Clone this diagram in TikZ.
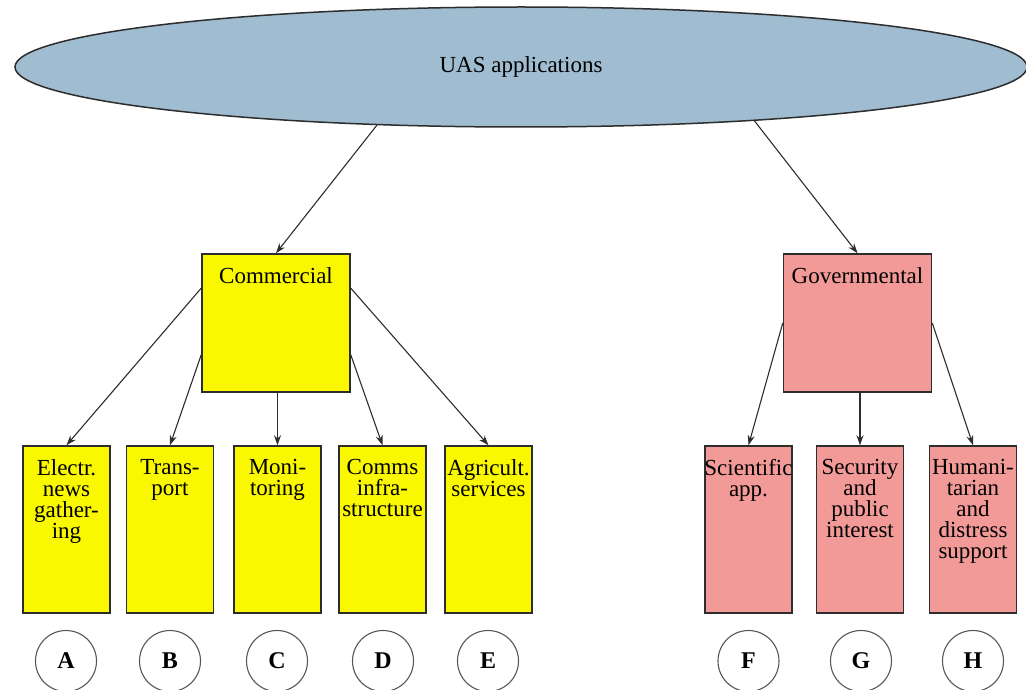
\documentclass[tikz,border=0pt]{standalone}
\usepackage{fontspec}
\setmainfont{Liberation Serif}
\usetikzlibrary{shapes.geometric,arrows.meta}
\definecolor{uasblue}{RGB}{160,188,208}
\definecolor{comyel}{RGB}{250,248,0}
\definecolor{govpink}{RGB}{242,154,152}
\definecolor{edgec}{RGB}{45,45,45}
\begin{document}
\begin{tikzpicture}[x=1pt,y=-1pt,
 every node/.style={font=\fontsize{23}{21}\selectfont},
 catbox/.style={draw=edgec,line width=1.5pt,minimum width=148pt,minimum height=138pt,inner sep=0pt},
 leafbox/.style={draw=edgec,line width=1.5pt,minimum width=87pt,minimum height=167pt,inner sep=0pt},
 boxtext/.style={anchor=north,align=center,inner sep=0pt,yshift=-14pt,font=\fontsize{23}{21}\selectfont},
 letter/.style={circle,draw=edgec!80,line width=1.1pt,minimum size=61pt,inner sep=0pt,font=\fontsize{24}{24}\selectfont\bfseries},
 arr/.style={draw=edgec,line width=1.1pt,-{Stealth[length=10pt,width=7pt]}}
]
\useasboundingbox (0,0) rectangle (1026,690);

\node[ellipse,draw=edgec,line width=1.5pt,fill=uasblue,minimum width=1012pt,minimum height=120pt,inner sep=0pt] (uas) at (521,67) {UAS applications};

\node[catbox,fill=comyel,label={[boxtext]north:Commercial}] (com) at (276,323) {};
\node[catbox,fill=govpink,label={[boxtext]north:Governmental}] (gov) at (857.5,323) {};

\node[leafbox,fill=comyel,label={[boxtext]north:Electr.\\news\\gather-\\ing}] (A) at (66.5,529.5) {};
\node[leafbox,fill=comyel,label={[boxtext]north:Trans-\\port}] (B) at (170,529.5) {};
\node[leafbox,fill=comyel,label={[boxtext]north:Moni-\\toring}] (C) at (277.5,529.5) {};
\node[leafbox,fill=comyel,label={[boxtext]north:Comms\\infra-\\structure}] (D) at (382.5,529.5) {};
\node[leafbox,fill=comyel,label={[boxtext]north:Agricult.\\services}] (E) at (488.5,529.5) {};
\node[leafbox,fill=govpink,label={[boxtext]north:Scientific\\app.}] (F) at (748.5,529.5) {};
\node[leafbox,fill=govpink,label={[boxtext]north:Security\\and\\public\\interest}] (G) at (860,529.5) {};
\node[leafbox,fill=govpink,label={[boxtext]north:Humani-\\tarian\\and\\distress\\support}] (H) at (973,529.5) {};

\node[letter] (la) at (66,661) {A};
\node[letter] (lb) at (170,661) {B};
\node[letter] (lc) at (277,661) {C};
\node[letter] (ld) at (383,661) {D};
\node[letter] (le) at (488,661) {E};
\node[letter] (lf) at (748.5,661) {F};
\node[letter] (lg) at (861,661) {G};
\node[letter] (lh) at (973,661) {H};

\draw[arr] (uas.202) -- (com.north);
\draw[arr] (uas.347) -- (gov.north);
\draw[arr] (com.155) -- (A.north);
\draw[arr] (com.203) -- (B.north);
\draw[arr] (C.north |- com.south) -- (C.north);
\draw[arr] (com.337) -- (D.north);
\draw[arr] (com.25) -- (E.north);
\draw[arr] (gov.west) -- (F.north);
\draw[arr] (G.north |- gov.south) -- (G.north);
\draw[arr] (gov.east) -- (H.north);
\end{tikzpicture}
\end{document}
